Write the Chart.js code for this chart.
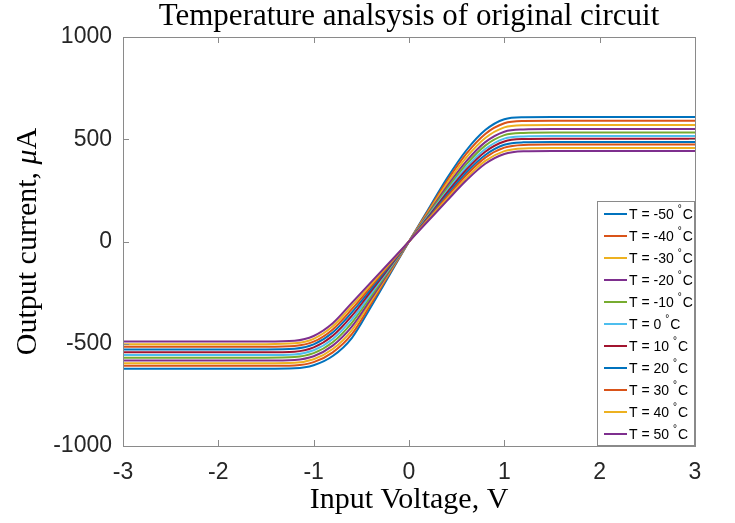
<!DOCTYPE html>
<html>
<head>
<meta charset="utf-8">
<script src="https://cdn.jsdelivr.net/npm/chart.js@4.4.1/dist/chart.umd.min.js"></script>
<style>
html,body{margin:0;padding:0;background:#fff;}
#wrap{width:735px;height:523px;}
</style>
</head>
<body>
<div id="wrap"><canvas id="c" width="735" height="523"></canvas></div>
<script>
// ---- data ----
const voltage = [-3, -1.5, -1.2, -1.0, -0.8, -0.6, -0.4, -0.2, 0, 0.2, 0.4, 0.6, 0.8, 1.0, 1.2, 1.5, 3];
const temperatures = [-50, -40, -30, -20, -10, 0, 10, 20, 30, 40, 50];
const iTm50 = [-622,-622,-620,-605,-560,-472,-320,-160,0,155,310,445,545,598,608,609,609];
const iTm40 = [-608,-608,-606,-590,-542,-453,-306,-153,0,149,297,428,526,578,589,590,590];
const iTm30 = [-595,-595,-593,-576,-526,-434,-293,-147,0,142,284,410,506,558,569,570,570];
const iTm20 = [-582,-582,-579,-561,-509,-416,-281,-140,0,135,270,392,486,537,548,550,550];
const iTm10 = [-568,-568,-565,-546,-493,-398,-268,-134,0,130,259,377,469,520,531,533,533];
const iT0   = [-555,-555,-552,-532,-477,-381,-256,-128,0,124,248,362,452,503,514,516,516];
const iT10  = [-542,-542,-539,-518,-461,-364,-244,-122,0,119,239,350,439,489,501,503,503];
const iT20  = [-528,-528,-525,-503,-445,-347,-233,-116,0,114,228,336,423,473,485,487,487];
const iT30  = [-515,-515,-511,-490,-430,-331,-221,-111,0,110,219,324,410,459,472,474,474];
const iT40  = [-502,-502,-498,-476,-415,-315,-211,-105,0,105,209,310,394,442,455,457,457];
const iT50  = [-489,-489,-485,-462,-400,-300,-200,-100,0,100,200,298,380,428,441,443,443];
const series = [iTm50, iTm40, iTm30, iTm20, iTm10, iT0, iT10, iT20, iT30, iT40, iT50];
const xTicks = [-3, -2, -1, 0, 1, 2, 3];
const yTicks = [-1000, -500, 0, 500, 1000];
const titleText = 'Temperature analsysis of original circuit';
const xLabel = 'Input Voltage, V';

const colors = ['#0072BD','#D95319','#EDB120','#7E2F8E','#77AC30','#4DBEEE','#A2142F','#0072BD','#D95319','#EDB120','#7E2F8E'];
const axisColor = '#8a8a8a';
const textColor = '#262626';

const datasets = series.map((vals, k) => ({
  label: 'T = ' + temperatures[k] + ' °C',
  data: voltage.map((v, i) => ({x: v, y: vals[i]})),
  borderColor: colors[k],
  backgroundColor: colors[k],
  borderWidth: 2,
  pointRadius: 0,
  cubicInterpolationMode: 'monotone',
  fill: false,
  order: series.length - k
}));

const decorPlugin = {
  id: 'decor',
  afterDraw(chart) {
    const ctx = chart.ctx, a = chart.chartArea;
    const xs = chart.scales.x, ys = chart.scales.y;
    ctx.save();
    // box
    ctx.strokeStyle = axisColor; ctx.lineWidth = 1;
    ctx.strokeRect(Math.round(a.left)+0.5, Math.round(a.top)+0.5, Math.round(a.right-a.left), Math.round(a.bottom-a.top));
    // inward ticks
    const tl = 6;
    ctx.beginPath();
    xTicks.forEach(t => {
      const px = Math.round(xs.getPixelForValue(t)) + 0.5;
      ctx.moveTo(px, a.bottom); ctx.lineTo(px, a.bottom - tl);
      ctx.moveTo(px, a.top); ctx.lineTo(px, a.top + tl);
    });
    yTicks.forEach(t => {
      const py = Math.round(ys.getPixelForValue(t)) + 0.5;
      ctx.moveTo(a.left, py); ctx.lineTo(a.left + tl, py);
      ctx.moveTo(a.right, py); ctx.lineTo(a.right - tl, py);
    });
    ctx.stroke();

    // title
    ctx.fillStyle = '#000';
    ctx.font = '31px "Liberation Serif"';
    ctx.textAlign = 'center'; ctx.textBaseline = 'alphabetic';
    ctx.fillText(titleText, (a.left + a.right) / 2, 25);

    // y label with italic mu
    ctx.save();
    ctx.translate(36, (a.top + a.bottom) / 2);
    ctx.rotate(-Math.PI / 2);
    const p1 = 'Output current, ', p2 = 'μ', p3 = 'A';
    ctx.font = '30px "Liberation Serif"';
    const w1 = ctx.measureText(p1).width, w3 = ctx.measureText(p3).width;
    ctx.font = 'italic 30px "Liberation Serif"';
    const w2 = ctx.measureText(p2).width;
    let x0 = -(w1 + w2 + w3) / 2;
    ctx.textAlign = 'left';
    ctx.font = '30px "Liberation Serif"';
    ctx.fillText(p1, x0, 0);
    ctx.font = 'italic 30px "Liberation Serif"';
    ctx.fillText(p2, x0 + w1, 0);
    ctx.font = '30px "Liberation Serif"';
    ctx.fillText(p3, x0 + w1 + w2, 0);
    ctx.restore();

    // legend
    const lx = 597, ly = 201, lw = a.right - 597 - 1, lh = a.bottom - 201 - 1;
    ctx.fillStyle = '#fff';
    ctx.fillRect(lx, ly, lw, lh);
    ctx.strokeStyle = axisColor; ctx.lineWidth = 1;
    ctx.strokeRect(lx + 0.5, ly + 0.5, lw, lh);
    datasets.forEach((ds, k) => {
      const cy = 214 + k * 22;
      ctx.strokeStyle = ds.borderColor; ctx.lineWidth = 2;
      ctx.beginPath(); ctx.moveTo(604, cy); ctx.lineTo(627, cy); ctx.stroke();
      ctx.fillStyle = '#000';
      ctx.textAlign = 'left'; ctx.textBaseline = 'middle';
      ctx.font = '14px "Liberation Sans"';
      const s = 'T = ' + temperatures[k] + ' ';
      ctx.fillText(s, 629, cy + 1);
      const ws = ctx.measureText(s).width;
      ctx.font = '10px "Liberation Sans"';
      ctx.fillText('°', 629 + ws, cy - 5);
      const wd = ctx.measureText('°').width;
      ctx.font = '14px "Liberation Sans"';
      ctx.fillText('C', 629 + ws + wd + 1, cy + 1);
    });
    ctx.restore();
  }
};

new Chart(document.getElementById('c'), {
  type: 'scatter',
  data: { datasets },
  plugins: [decorPlugin],
  options: {
    responsive: false,
    animation: false,
    showLine: true,
    layout: { padding: { top: 37, right: 40, left: 0, bottom: 0 } },
    plugins: { legend: { display: false }, tooltip: { enabled: false }, title: { display: false } },
    scales: {
      x: {
        type: 'linear', min: -3, max: 3,
        afterBuildTicks: s => { s.ticks = xTicks.map(v => ({value: v})); },
        afterFit: s => { s.height = 77; },
        grid: { display: false, drawTicks: false },
        border: { display: false },
        ticks: { color: textColor, font: { family: 'Liberation Sans', size: 23 }, padding: 13, maxRotation: 0,
                 callback: v => String(v) },
        title: { display: true, text: xLabel, color: '#000', font: { family: 'Liberation Serif', size: 30 }, padding: { top: 0, bottom: 5 } }
      },
      y: {
        type: 'linear', min: -1000, max: 1000,
        afterBuildTicks: s => { s.ticks = yTicks.map(v => ({value: v})); },
        afterFit: s => { s.width = 123; },
        grid: { display: false, drawTicks: false },
        border: { display: false },
        ticks: { color: textColor, font: { family: 'Liberation Sans', size: 23 }, padding: 11,
                 callback: v => String(v) }
      }
    }
  }
});
</script>
</body>
</html>
